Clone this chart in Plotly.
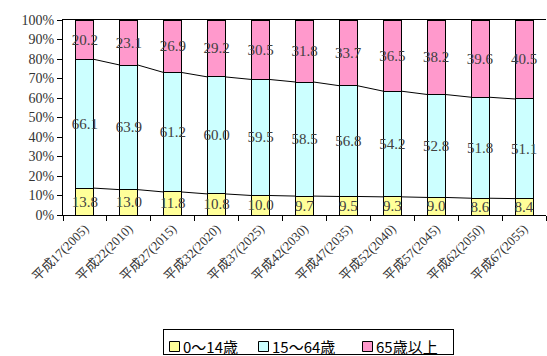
import plotly.graph_objects as go

categories = ["平成17(2005)", "平成22(2010)", "平成27(2015)", "平成32(2020)", "平成37(2025)",
              "平成42(2030)", "平成47(2035)", "平成52(2040)", "平成57(2045)", "平成62(2050)", "平成67(2055)"]
age_0_14 = [13.8, 13.0, 11.8, 10.8, 10.0, 9.7, 9.5, 9.3, 9.0, 8.6, 8.4]
age_15_64 = [66.1, 63.9, 61.2, 60.0, 59.5, 58.5, 56.8, 54.2, 52.8, 51.8, 51.1]
age_65 = [20.2, 23.1, 26.9, 29.2, 30.5, 31.8, 33.7, 36.5, 38.2, 39.6, 40.5]
series_names = ["0〜14歳", "15〜64歳", "65歳以上"]
colors = ["#FFFF99", "#CCFFFF", "#FF99CC"]
y_ticks = list(range(0, 101, 10))

W, H = 547, 356
ML, MR, MT, MB = 63, 1, 20, 141
PW, PH = W - ML - MR, H - MT - MB


def px_x(x):
    return (x - ML) / PW


def px_y(y):
    return (H - MB - y) / PH


BAR_W = 0.41
SERIF = "Liberation Serif, DejaVu Serif, Noto Sans CJK JP"
label_font = dict(family=SERIF, size=15, color="#404040")

fig = go.Figure()
for name, vals, col in zip(series_names, [age_0_14, age_15_64, age_65], colors):
    fig.add_trace(go.Bar(
        x=categories, y=vals, name=name, marker=dict(color=col, line=dict(color="black", width=1)),
        width=BAR_W, text=[f"{v:.1f}" for v in vals], textposition="inside", textangle=0,
        insidetextanchor="middle", constraintext="none", textfont=label_font,
        cliponaxis=False, showlegend=False,
    ))

# series lines connecting stacked tops (normalized to 100%)
totals = [a + b + c for a, b, c in zip(age_0_14, age_15_64, age_65)]
for lower in ([age_0_14], [age_0_14, age_15_64]):
    xs, ys = [], []
    cum = [sum(s[i] for s in lower) / totals[i] * 100 for i in range(len(categories))]
    for i in range(len(categories) - 1):
        xs += [i + BAR_W / 2, i + 1 - BAR_W / 2, None]
        ys += [cum[i], cum[i + 1], None]
    fig.add_trace(go.Scatter(x=xs, y=ys, mode="lines", line=dict(color="black", width=1),
                             xaxis="x2", showlegend=False, hoverinfo="skip"))

# manual legend: outer black filled rect + inner white rect form the frame
bx0, bx1, by0, by1 = 163, 454, 329, 355
shapes = [
    dict(type="rect", xref="paper", yref="paper", x0=px_x(bx0), x1=px_x(bx1),
         y0=px_y(by1), y1=px_y(by0), line=dict(width=0), fillcolor="black", layer="above"),
    dict(type="rect", xref="paper", yref="paper", x0=px_x(bx0 + 1), x1=px_x(bx1 - 1),
         y0=px_y(by1 - 1), y1=px_y(by0 + 1), line=dict(width=0), fillcolor="white", layer="above"),
]
annotations = []
swatch_x = [169, 258, 362]
for name, col, sx in zip(series_names, colors, swatch_x):
    shapes.append(dict(type="rect", xref="paper", yref="paper", x0=px_x(sx + 0.5), x1=px_x(sx + 10.5),
                       y0=px_y(351.5), y1=px_y(341.5), line=dict(color="black", width=1),
                       fillcolor=col, layer="above"))
    annotations.append(dict(text=name, xref="paper", yref="paper", x=px_x(sx + 12), y=px_y(346.5),
                            xanchor="left", yanchor="middle", showarrow=False,
                            font=dict(family="Noto Sans CJK JP", size=15, color="black")))

fig.update_layout(
    width=W, height=H, barmode="stack", barnorm="percent",
    margin=dict(l=ML, r=MR, t=MT, b=MB),
    paper_bgcolor="white", plot_bgcolor="white",
    font=dict(family=SERIF, color="#333333"),
    xaxis=dict(type="category", showline=True, linecolor="black", linewidth=1, mirror=True,
               ticks="outside", tickson="boundaries", ticklen=5, tickcolor="black",
               tickangle=-45, tickfont=dict(family=SERIF, size=13, color="#333333"),
               showgrid=False, zeroline=False),
    xaxis2=dict(overlaying="x", range=[-0.5, len(categories) - 0.5], visible=False),
    yaxis=dict(range=[0, 100], tickmode="array", tickvals=y_ticks,
               ticktext=[f"{v}%" for v in y_ticks],
               showline=True, linecolor="black", linewidth=1, ticks="outside", ticklen=5,
               tickcolor="black", showgrid=False, zeroline=False,
               tickfont=dict(family=SERIF, size=14, color="#333333")),
    shapes=shapes, annotations=annotations,
    showlegend=False,
)

fig.write_html("out.html")
